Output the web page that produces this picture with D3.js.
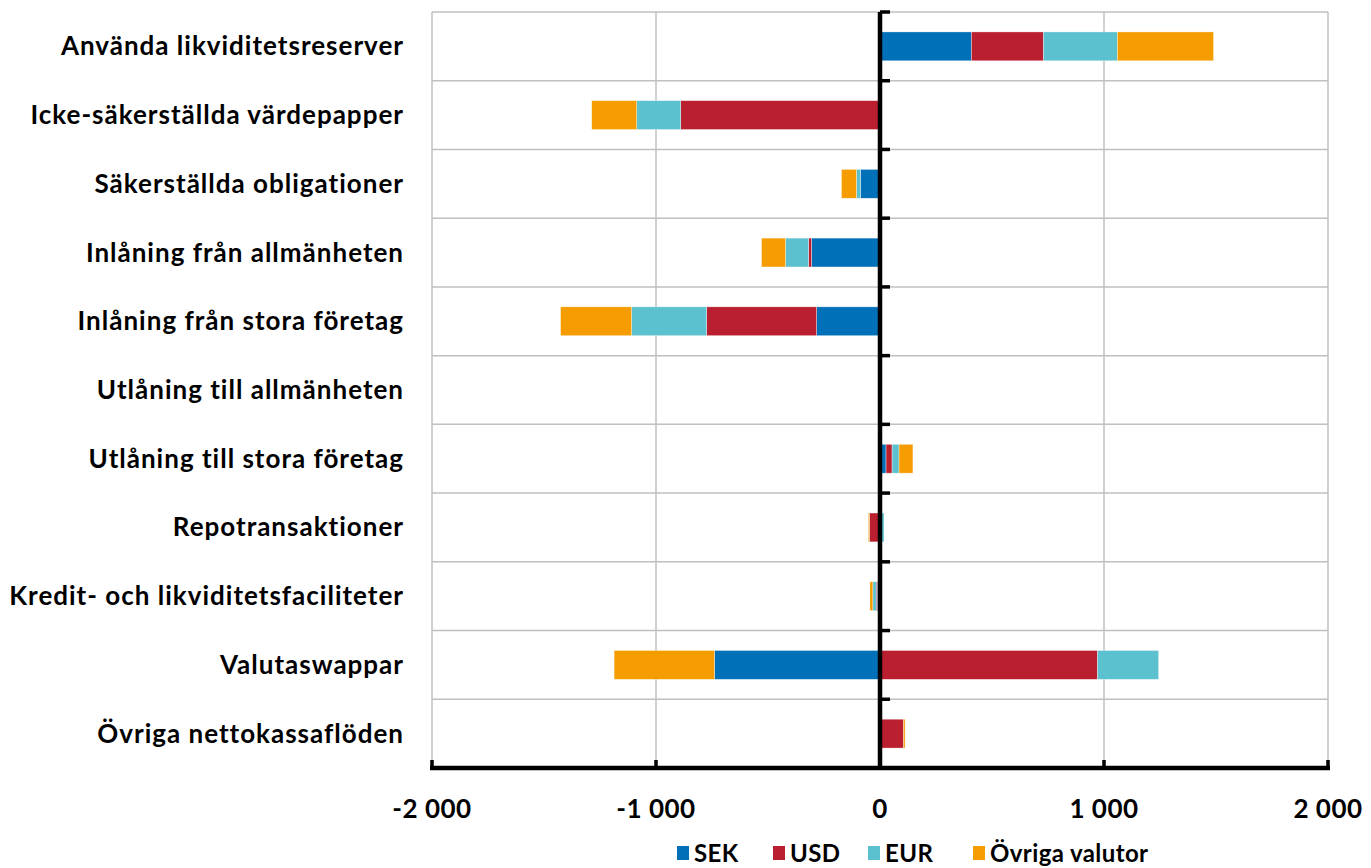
<!DOCTYPE html>
<html>
<head>
<meta charset="utf-8">
<script src="https://cdn.jsdelivr.net/npm/d3@7"></script>
<style>
  html, body { margin: 0; padding: 0; background: #fff; }
  svg text { font-family: Lato, "Open Sans", sans-serif; font-weight: 700; fill: #000; }
</style>
</head>
<body>
<svg id="chart" width="1371" height="868"></svg>
<script>
const categories = [
  "Använda likviditetsreserver",
  "Icke-säkerställda värdepapper",
  "Säkerställda obligationer",
  "Inlåning från allmänheten",
  "Inlåning från stora företag",
  "Utlåning till allmänheten",
  "Utlåning till stora företag",
  "Repotransaktioner",
  "Kredit- och likviditetsfaciliteter",
  "Valutaswappar",
  "Övriga nettokassaflöden"
];
const seriesNames = ["SEK", "USD", "EUR", "Övriga valutor"];
const SEK = [408, 0, -87, -306, -283, 0, 27, 0, -12, -739, 0];
const USD = [322, -890, 0, -13, -491, 0, 27, -47, -5, 971, 105];
const EUR = [330, -196, -18, -103, -335, 0, 31, 18, -15, 273, 0];
const OVR = [429, -201, -67, -107, -317, 0, 62, -5, -13, -448, 7];
const colors = ["#0070B8", "#B91F2E", "#5BC1CF", "#F59C00"];
const xTicks = [-2000, -1000, 0, 1000, 2000];

const rows = categories.map((c, i) => ({
  cat: c, "SEK": SEK[i], "USD": USD[i], "EUR": EUR[i], "Övriga valutor": OVR[i]
}));

const svg = d3.select("#chart");
const pL = 432, pR = 1328, pT = 12, pB = 768;

const x = d3.scaleLinear().domain([-2000, 2000]).range([pL, pR]);
const y = d3.scaleBand().domain(categories).range([pT, pB]).paddingInner(0.58).paddingOuter(0.29);
const yb = d3.scaleBand().domain(categories).range([pT, pB]);

// gridlines
const grid = svg.append("g");
grid.selectAll("line.v").data(xTicks).join("line")
  .attr("x1", d => x(d)).attr("x2", d => x(d))
  .attr("y1", pT).attr("y2", pB)
  .attr("stroke", "#c0c0c0").attr("stroke-width", 1.5);
const bounds = categories.map(c => yb(c)).concat([pB]);
grid.selectAll("line.h").data(bounds).join("line")
  .attr("x1", pL).attr("x2", pR)
  .attr("y1", d => d).attr("y2", d => d)
  .attr("stroke", "#c0c0c0").attr("stroke-width", 1.5);

// stacked bars
const stack = d3.stack().keys(seriesNames).offset(d3.stackOffsetDiverging);
const layers = stack(rows);
svg.append("g").selectAll("g").data(layers).join("g")
  .attr("fill", (d, i) => colors[i])
  .selectAll("rect").data(d => d).join("rect")
  .attr("x", d => x(Math.min(d[0], d[1])))
  .attr("width", d => Math.abs(x(d[1]) - x(d[0])))
  .attr("y", d => y(d.data.cat))
  .attr("height", y.bandwidth())
  .attr("stroke", "rgba(255,255,255,0.6)").attr("stroke-width", 0.6);

// vertical zero axis
svg.append("line")
  .attr("x1", x(0)).attr("x2", x(0)).attr("y1", pT).attr("y2", pB)
  .attr("stroke", "#000").attr("stroke-width", 4.5);
svg.append("g").selectAll("line").data(bounds).join("line")
  .attr("x1", x(0)).attr("x2", x(0) + 10)
  .attr("y1", d => d).attr("y2", d => d)
  .attr("stroke", "#000").attr("stroke-width", 3.5);

// bottom axis
svg.append("line")
  .attr("x1", pL - 2).attr("x2", pR + 2).attr("y1", pB).attr("y2", pB)
  .attr("stroke", "#000").attr("stroke-width", 4.5);
svg.append("g").selectAll("line").data(xTicks).join("line")
  .attr("x1", d => x(d)).attr("x2", d => x(d))
  .attr("y1", pB).attr("y2", pB - 8)
  .attr("stroke", "#000").attr("stroke-width", 3.5);

const fmt = v => (v < 0 ? "-" : "") + d3.format(",")(Math.abs(v)).replace(/,/g, " ");
svg.append("g").selectAll("text").data(xTicks).join("text")
  .attr("x", d => x(d)).attr("y", 818)
  .attr("text-anchor", "middle")
  .style("font-size", "26px").style("letter-spacing", "0.5px")
  .text(d => fmt(d));

// category labels
svg.append("g").selectAll("text").data(categories).join("text")
  .attr("x", 404).attr("y", d => yb(d) + yb.bandwidth() / 2 + 9)
  .attr("text-anchor", "end")
  .style("font-size", "26px").style("letter-spacing", "1px")
  .text(d => d);

// legend
const legX = [677, 773, 868, 973];
const leg = svg.append("g");
seriesNames.forEach((s, i) => {
  leg.append("rect").attr("x", legX[i]).attr("y", 846).attr("width", 12).attr("height", 14).attr("fill", colors[i]);
  leg.append("text").attr("x", legX[i] + 17).attr("y", 862).style("font-size", "24px").style("letter-spacing", "0.4px").text(s);
});
</script>
</body>
</html>
